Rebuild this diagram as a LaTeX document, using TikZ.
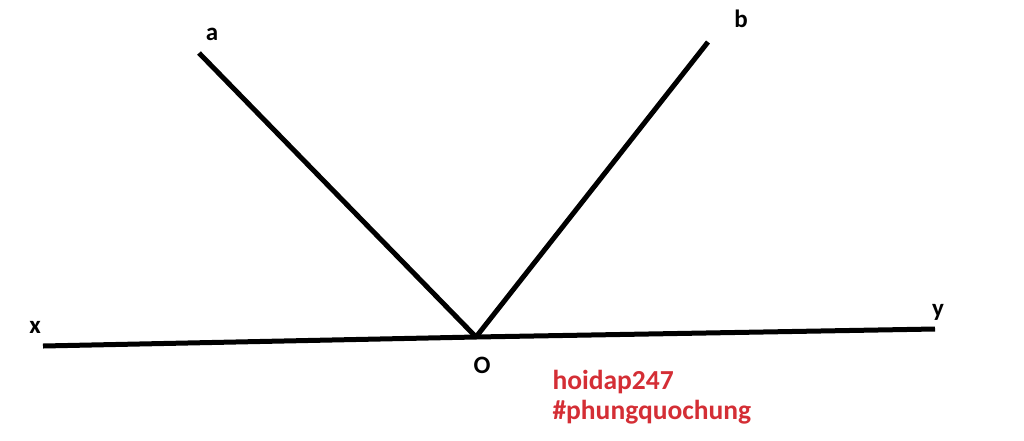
\documentclass[tikz,border=0pt]{standalone}
\usepackage{fontspec}
\setmainfont{Carlito}
\usepackage{tikz}
\definecolor{mark-red}{HTML}{D42E35}

\begin{document}
\begin{tikzpicture}[x=1pt, y=-1pt, line width=5pt,
  lbl/.style={font=\fontsize{25}{30}\selectfont\bfseries, inner sep=0pt},
  tag/.style={font=\fontsize{27.5}{32}\selectfont\bfseries, inner sep=0pt,
    text=mark-red, anchor=west}]
        \useasboundingbox (0,0) rectangle (1024,440);
        \coordinate (o) at (476,337);
        \coordinate (x) at (43,346);
        \coordinate (y) at (935,329);
        \coordinate (a) at (199,53);
        \coordinate (b) at (708,42);

        \node[lbl] (lx) at (35,327) {x};
        \node[lbl] (ly) at (938,312) {y};
        \node[lbl] (la) at (212,34) {a};
        \node[lbl] (lb) at (741,19) {b};
        \node[lbl] (lo) at (482,365) {O};

        \node[tag] (h1) at (550,382) {hoidap247};
        \node[tag] (h2) at (550,412) {\#phungquochung};

        \draw (x) -- (o) -- (y);
        \draw (a) -- (o);
        \draw (b) -- (o);
      \end{tikzpicture}
\end{document}
